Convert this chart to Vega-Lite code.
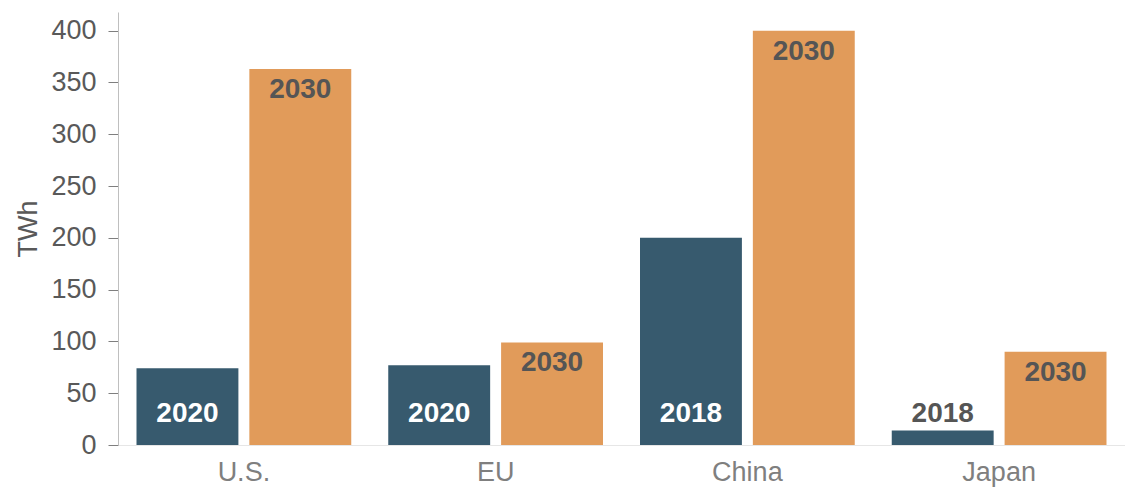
{
  "$schema": "https://vega.github.io/schema/vega-lite/v6.json",
  "autosize": {"type": "none"},
  "padding": {"left": 118, "top": 12, "right": 0, "bottom": 44},
  "width": 1007,
  "height": 433,
  "background": "white",
  "config": {
    "view": {"stroke": null},
    "font": "Liberation Sans"
  },
  "data": {
    "values": [
      {"region": "U.S.", "year": "2020", "series": "current", "value": 74},
      {"region": "U.S.", "year": "2030", "series": "target", "value": 363},
      {"region": "EU", "year": "2020", "series": "current", "value": 77},
      {"region": "EU", "year": "2030", "series": "target", "value": 99},
      {"region": "China", "year": "2018", "series": "current", "value": 200},
      {"region": "China", "year": "2030", "series": "target", "value": 400},
      {"region": "Japan", "year": "2018", "series": "current", "value": 14},
      {"region": "Japan", "year": "2030", "series": "target", "value": 90}
    ]
  },
  "encoding": {
    "x": {
      "field": "region",
      "type": "nominal",
      "sort": ["U.S.", "EU", "China", "Japan"],
      "scale": {"paddingInner": 0.147, "paddingOuter": 0.0735},
      "axis": {
        "title": null,
        "labelAngle": 0,
        "labelFontSize": 27,
        "labelColor": "#7f7f7f",
        "labelPadding": 14,
        "ticks": false,
        "domainColor": "#e6e6e6",
        "domainWidth": 1
      }
    },
    "xOffset": {
      "field": "series",
      "type": "nominal",
      "sort": ["current", "target"],
      "scale": {"paddingInner": 0.097, "paddingOuter": 0}
    }
  },
  "layer": [
    {
      "mark": {"type": "bar"},
      "encoding": {
        "y": {
          "field": "value",
          "type": "quantitative",
          "scale": {"domain": [0, 418], "nice": false},
          "axis": {
            "title": "TWh",
            "titleFontSize": 27,
            "titleFontWeight": "normal",
            "titleColor": "#595959",
            "titlePadding": 8,
            "values": [0, 50, 100, 150, 200, 250, 300, 350, 400],
            "labelFontSize": 27,
            "labelColor": "#595959",
            "labelPadding": 12,
            "tickColor": "#7f7f7f",
            "tickSize": 10,
            "domainColor": "#bfbfbf",
            "grid": false
          }
        },
        "color": {
          "field": "series",
          "type": "nominal",
          "scale": {"domain": ["current", "target"], "range": ["#375a6e", "#e19b5a"]},
          "legend": null
        }
      }
    },
    {
      "transform": [{"filter": "datum.series == 'target'"}],
      "mark": {"type": "text", "baseline": "top", "dy": 7, "fontSize": 28, "fontWeight": "bold", "color": "#555555"},
      "encoding": {
        "y": {"field": "value", "type": "quantitative"},
        "text": {"field": "year"}
      }
    },
    {
      "transform": [{"filter": "datum.series == 'current'"}],
      "mark": {"type": "text", "baseline": "middle", "fontSize": 28, "fontWeight": "bold"},
      "encoding": {
        "y": {"datum": 30, "type": "quantitative"},
        "text": {"field": "year"},
        "color": {
          "condition": {"test": "datum.value > 40", "value": "#ffffff"},
          "value": "#555555"
        }
      }
    }
  ]
}
